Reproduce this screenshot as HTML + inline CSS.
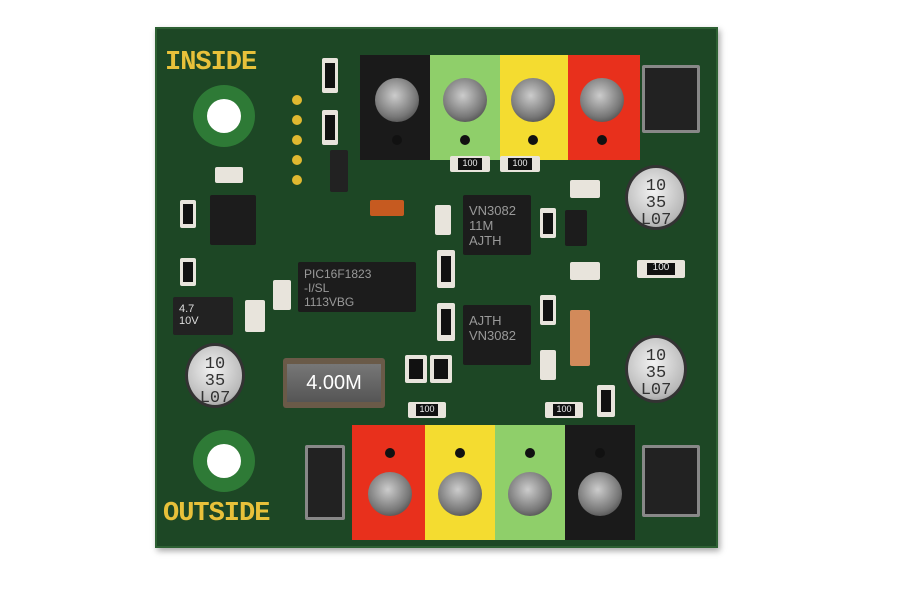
<!DOCTYPE html>
<html><head><meta charset="utf-8"><style>
body{margin:0;width:900px;height:600px;background:#fff;position:relative;overflow:hidden;font-family:"Liberation Sans",sans-serif}
div{position:absolute;box-sizing:border-box}
.b{left:155px;top:27px;width:563px;height:521px;background:#1d4725;border:2px solid #2d6033;box-shadow:2px 3px 6px rgba(0,0,0,.35)}
.ic{background:#1c1c1c;border-radius:2px}
.scr{width:44px;height:44px;border-radius:50%;background:radial-gradient(circle at 45% 40%,#ccc,#777 60%,#2a2a2a);}
.hl{width:10px;height:10px;border-radius:50%;background:#111}
.cap{border-radius:50%;background:radial-gradient(circle at 45% 40%,#f2f2f2,#b8b8b8 70%,#777);border:3px solid #333;font-family:"Liberation Mono",monospace;font-size:17px;line-height:17px;color:#333;text-align:center;padding-top:10px}
.r{background:#e8e4dc;border-radius:2px;font-size:9px;text-align:center;color:#222}
.r i{position:absolute;left:20%;right:20%;top:15%;bottom:15%;background:#111;color:#eee;font-style:normal;font-size:9px;line-height:10px}
.silk{color:#e8c13a;font-weight:bold;font-family:"Liberation Mono",monospace;letter-spacing:-1px}
.mh{width:62px;height:62px;border-radius:50%;background:#2e7a36}
.mh::after{content:"";position:absolute;left:14px;top:14px;width:34px;height:34px;border-radius:50%;background:#fff}
.d{background:#222;border:3px solid #888;border-radius:2px}
</style></head><body>
<div class="b"></div>
<div class="silk" style="left:165px;top:48px;font-size:27px">INSIDE</div>
<div class="silk" style="left:163px;top:499px;font-size:27px">OUTSIDE</div>
<div class="mh" style="left:193px;top:85px"></div>
<div class="mh" style="left:193px;top:430px"></div>
<!-- top terminals -->
<div style="left:360px;top:55px;width:72px;height:105px;background:#1a1a1a"></div>
<div style="left:430px;top:55px;width:70px;height:105px;background:#8fcf6a"></div>
<div style="left:500px;top:55px;width:68px;height:105px;background:#f4dc30"></div>
<div style="left:568px;top:55px;width:72px;height:105px;background:#e8301c"></div>
<div class="scr" style="left:375px;top:78px"></div>
<div class="scr" style="left:443px;top:78px"></div>
<div class="scr" style="left:511px;top:78px"></div>
<div class="scr" style="left:580px;top:78px"></div>
<div class="hl" style="left:392px;top:135px"></div>
<div class="hl" style="left:460px;top:135px"></div>
<div class="hl" style="left:528px;top:135px"></div>
<div class="hl" style="left:597px;top:135px"></div>
<!-- bottom terminals -->
<div style="left:352px;top:425px;width:74px;height:115px;background:#e8301c"></div>
<div style="left:425px;top:425px;width:70px;height:115px;background:#f4dc30"></div>
<div style="left:495px;top:425px;width:70px;height:115px;background:#8fcf6a"></div>
<div style="left:565px;top:425px;width:70px;height:115px;background:#1a1a1a"></div>
<div class="scr" style="left:368px;top:472px"></div>
<div class="scr" style="left:438px;top:472px"></div>
<div class="scr" style="left:508px;top:472px"></div>
<div class="scr" style="left:578px;top:472px"></div>
<div class="hl" style="left:385px;top:448px"></div>
<div class="hl" style="left:455px;top:448px"></div>
<div class="hl" style="left:525px;top:448px"></div>
<div class="hl" style="left:595px;top:448px"></div>
<!-- diodes -->
<div class="d" style="left:642px;top:65px;width:58px;height:68px"></div>
<div class="d" style="left:642px;top:445px;width:58px;height:72px"></div>
<div class="d" style="left:305px;top:445px;width:40px;height:75px"></div>
<!-- ICs -->
<div class="ic" style="left:463px;top:195px;width:68px;height:60px;color:#999;font-size:13px;padding:8px 6px">VN3082<br>11M<br>AJTH</div>
<div class="ic" style="left:463px;top:305px;width:68px;height:60px;color:#999;font-size:13px;padding:8px 6px">AJTH<br>VN3082</div>
<div class="ic" style="left:298px;top:262px;width:118px;height:50px;color:#999;font-size:12px;padding:5px 6px">PIC16F1823<br>-I/SL<br>1113VBG</div>
<div class="ic" style="left:210px;top:195px;width:46px;height:50px"></div>
<div class="ic" style="left:173px;top:297px;width:60px;height:38px;background:#222;color:#ddd;font-size:11px;padding:6px">4.7<br>10V</div>
<!-- caps -->
<div class="cap" style="left:625px;top:165px;width:62px;height:65px">10<br>35<br>L07</div>
<div class="cap" style="left:625px;top:335px;width:62px;height:68px">10<br>35<br>L07</div>
<div class="cap" style="left:185px;top:343px;width:60px;height:65px">10<br>35<br>L07</div>
<!-- crystal -->
<div style="left:283px;top:358px;width:102px;height:50px;background:#6a5a48;border-radius:3px"></div>
<div style="left:287px;top:364px;width:94px;height:38px;background:linear-gradient(#777,#555);color:#fff;font-size:20px;text-align:center;line-height:38px">4.00M</div>
<!-- resistors -->
<div class="r" style="left:322px;top:58px;width:16px;height:35px"><i></i></div>
<div class="r" style="left:322px;top:110px;width:16px;height:35px"><i></i></div>
<div class="r" style="left:215px;top:167px;width:28px;height:16px"></div>
<div class="r" style="left:180px;top:200px;width:16px;height:28px"><i></i></div>
<div class="r" style="left:180px;top:258px;width:16px;height:28px"><i></i></div>
<div class="r" style="left:273px;top:280px;width:18px;height:30px"></div>
<div class="r" style="left:245px;top:300px;width:20px;height:32px"></div>
<div class="r" style="left:435px;top:205px;width:16px;height:30px"></div>
<div class="r" style="left:370px;top:200px;width:34px;height:16px;background:#c65a20"></div>
<div class="r" style="left:437px;top:250px;width:18px;height:38px"><i></i></div>
<div class="r" style="left:437px;top:303px;width:18px;height:38px"><i></i></div>
<div class="r" style="left:540px;top:208px;width:16px;height:30px"><i></i></div>
<div class="r" style="left:540px;top:295px;width:16px;height:30px"><i></i></div>
<div class="r" style="left:540px;top:350px;width:16px;height:30px"></div>
<div class="r" style="left:570px;top:180px;width:30px;height:18px"></div>
<div class="r" style="left:570px;top:262px;width:30px;height:18px"></div>
<div class="r" style="left:637px;top:260px;width:48px;height:18px"><i style="font-size:10px">100</i></div>
<div class="r" style="left:565px;top:210px;width:22px;height:36px;background:#1c1c1c"></div>
<div class="r" style="left:570px;top:310px;width:20px;height:56px;background:#d28a5a"></div>
<div class="r" style="left:405px;top:355px;width:22px;height:28px"><i></i></div>
<div class="r" style="left:430px;top:355px;width:22px;height:28px"><i></i></div>
<div class="r" style="left:597px;top:385px;width:18px;height:32px"><i></i></div>
<div class="r" style="left:408px;top:402px;width:38px;height:16px"><i>100</i></div>
<div class="r" style="left:545px;top:402px;width:38px;height:16px"><i>100</i></div>
<div class="r" style="left:450px;top:156px;width:40px;height:16px"><i>100</i></div>
<div class="r" style="left:500px;top:156px;width:40px;height:16px"><i>100</i></div>
<div class="r" style="left:330px;top:150px;width:18px;height:42px;background:#222"></div>
<!-- pads -->
<div style="left:292px;top:95px;width:10px;height:10px;border-radius:50%;background:#e0b830"></div>
<div style="left:292px;top:115px;width:10px;height:10px;border-radius:50%;background:#e0b830"></div>
<div style="left:292px;top:135px;width:10px;height:10px;border-radius:50%;background:#e0b830"></div>
<div style="left:292px;top:155px;width:10px;height:10px;border-radius:50%;background:#e0b830"></div>
<div style="left:292px;top:175px;width:10px;height:10px;border-radius:50%;background:#e0b830"></div>
</body></html>
